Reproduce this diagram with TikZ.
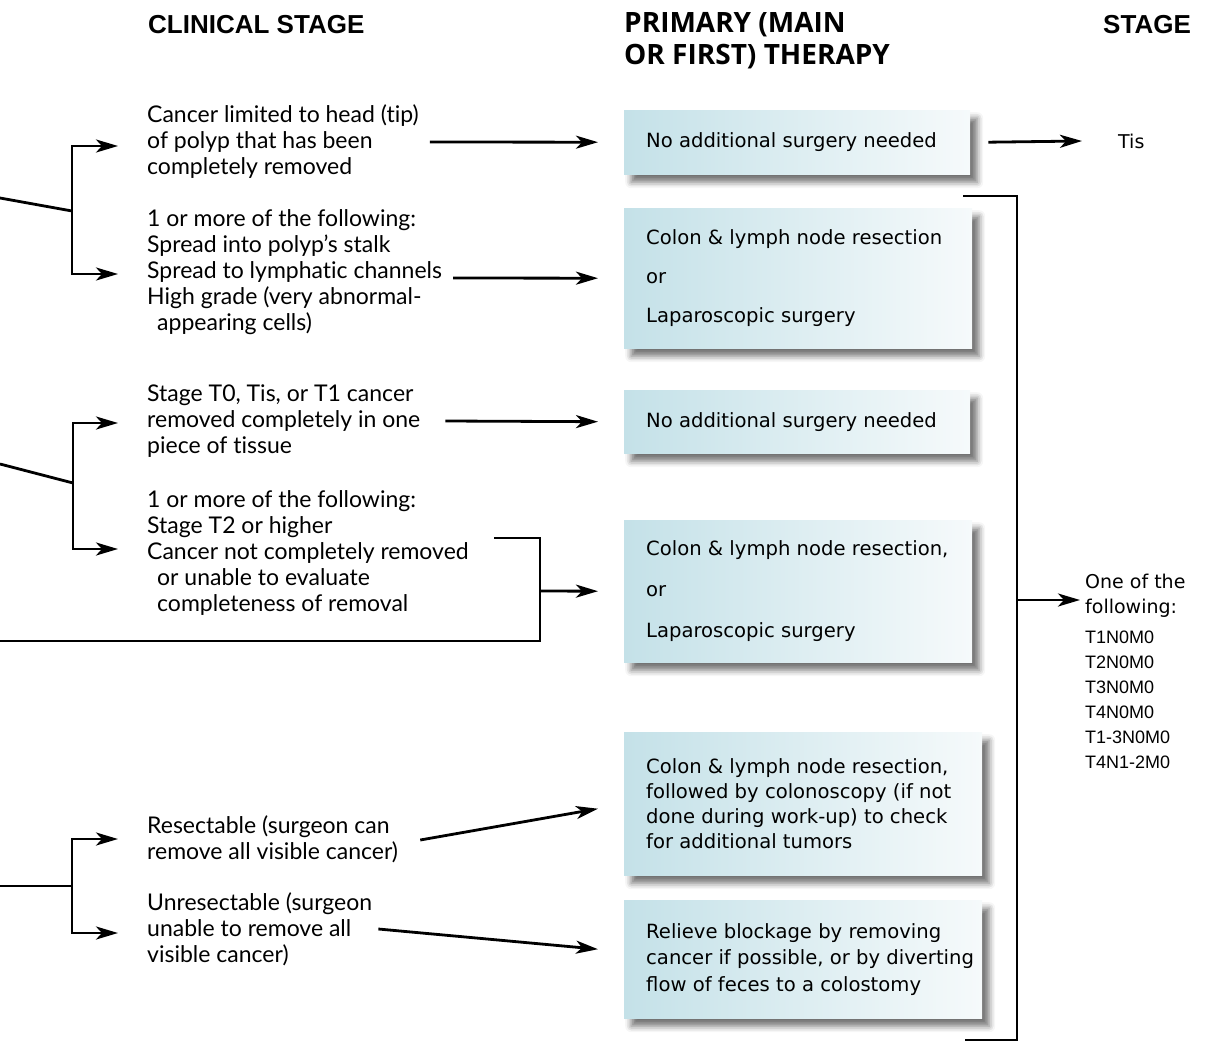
\documentclass[tikz,border=0pt]{standalone}
\usepackage{fontspec}
\setmainfont{Lato}
\newfontfamily\condfont[Ligatures=NoCommon]{Lato}
\newfontfamily\panelfont{DejaVu Sans}
\newfontfamily\stagefont{Liberation Sans}
\newfontfamily\headfont{Liberation Sans}
\newfontfamily\therapyfont{Open Sans}
\usetikzlibrary{arrows.meta,shadows.blur}
\definecolor{panelL}{RGB}{196,225,232}
\definecolor{panelR}{RGB}{246,250,251}

\begin{document}
\begin{tikzpicture}[x=1pt,y=-1pt,
  link/.style={line width=2.8pt},
  arr/.style={link,-{Stealth[length=22pt,width=13pt,inset=6pt]}},
  cond/.style={anchor=west,inner sep=0pt,align=left,
    font=\condfont\fontsize{23}{26}\selectfont},
  panel/.style={anchor=north west,inner sep=0pt,
    left color=panelL,right color=panelR,
    blur shadow={shadow xshift=7pt,shadow yshift=-8pt,
      shadow blur radius=6pt,shadow opacity=55}},
  paneltext/.style={anchor=west,inner sep=0pt,align=left,
    font=\panelfont\fontsize{19.6}{#1}\selectfont},
  paneltext/.default=26,
  head/.style={anchor=west,inner sep=0pt,align=left,
    font=\headfont\bfseries\fontsize{26}{32}\selectfont},
  thead/.style={anchor=west,inner sep=0pt,align=left,
    font=\therapyfont\bfseries\fontsize{28}{32}\selectfont},
  stage/.style={anchor=west,inner sep=0pt,align=left,
    font=\panelfont\fontsize{19}{25}\selectfont}]

\useasboundingbox (0,0) rectangle (1219,1044);

% column headings
\node[head]  (hClin)  at (148,25) {CLINICAL STAGE};
\node[thead] (hPrim)  at (624,41) {PRIMARY (MAIN\\OR FIRST) THERAPY};
\node[head]  (hStage) at (1103,25) {STAGE};

% clinical findings
\node[cond] (c1) at (147,142) {Cancer limited to head (tip)\\of polyp that has been\\completely removed};
\node[cond] (c2) at (147,272) {1 or more of the following:\\Spread into polyp’s stalk\\Spread to lymphatic channels\\High grade (very abnormal-\\\hspace*{10pt}appearing cells)};
\node[cond] (c3) at (147,421) {Stage T0, Tis, or T1 cancer\\removed completely in one\\piece of tissue};
\node[cond] (c4) at (147,553) {1 or more of the following:\\Stage T2 or higher\\Cancer not completely removed\\\hspace*{10pt}or unable to evaluate\\\hspace*{10pt}completeness of removal};
\node[cond] (c5) at (147,839) {Resectable (surgeon can\\remove all visible cancer)};
\node[cond] (c6) at (147,929) {Unresectable (surgeon\\unable to remove all\\visible cancer)};

% therapy panels
\node[panel,minimum width=346,minimum height=64]  (b1) at (624,110) {};
\node[panel,minimum width=348,minimum height=140] (b2) at (624,208) {};
\node[panel,minimum width=346,minimum height=63]  (b3) at (624,390) {};
\node[panel,minimum width=348,minimum height=142] (b4) at (624,520) {};
\node[panel,minimum width=358,minimum height=143] (b5) at (624,732) {};
\node[panel,minimum width=358,minimum height=118] (b6) at (624,900) {};

\node[paneltext] (t1) at ([xshift=22pt]b1.west) {No additional surgery needed};
\node[paneltext=39] (t2) at ([xshift=22pt]b2.west) {Colon \& lymph node resection\\or\\Laparoscopic surgery};
\node[paneltext] (t3) at ([xshift=22pt]b3.west) {No additional surgery needed};
\node[paneltext=41] (t4) at ([xshift=22pt]b4.west) {Colon \& lymph node resection,\\or\\Laparoscopic surgery};
\node[paneltext=25] (t5) at ([xshift=22pt]b5.west) {Colon \& lymph node resection,\\followed by colonoscopy (if not\\done during work-up) to check\\for additional tumors};
\node[paneltext=26.5] (t6) at ([xshift=22pt]b6.west) {Relieve blockage by removing\\cancer if possible, or by diverting\\flow of feces to a colostomy};

% pathologic stage
\node[stage] (s0) at (1118,141) {Tis};
\node[stage] (s1) at (1085,671) {One of the\\following:\\[5pt]{\stagefont\fontsize{18}{24}\selectfont T1N0M0}\\{\stagefont\fontsize{18}{24}\selectfont T2N0M0}\\{\stagefont\fontsize{18}{24}\selectfont T3N0M0}\\{\stagefont\fontsize{18}{24}\selectfont T4N0M0}\\{\stagefont\fontsize{18}{24}\selectfont T1-3N0M0}\\{\stagefont\fontsize{18}{24}\selectfont T4N1-2M0}};

% first branch
\coordinate (g1in) at (0,198);
\coordinate (g1j)  at (72,211);
\draw[link] (g1in) -- (g1j);
\draw[arr] (g1j) |- ([xshift=-29pt,yshift=-4pt]c1.west);
\draw[arr] (g1j) |- ([xshift=-29pt,yshift=-2pt]c2.west);
\draw[arr] ([xshift=11pt]c1.east) -- ([xshift=-26pt]b1.west);
\draw[arr] ([xshift=11pt,yshift=-6pt]c2.east) -- ([xshift=-26pt]b2.west);

% second branch
\coordinate (g2in) at (0,464);
\coordinate (g2j)  at (73,483);
\draw[link] (g2in) -- (g2j);
\draw[arr] (g2j) |- ([xshift=-29pt,yshift=-2pt]c3.west);
\draw[arr] (g2j) |- ([xshift=-29pt,yshift=4pt]c4.west);
\draw[arr] ([xshift=25pt]c3.east) -- ([xshift=-26pt]b3.west);
\coordinate (k4a)   at (494,538);
\coordinate (k4b)   at (540,538);
\coordinate (k4c)   at (540,641);
\coordinate (k4out) at (0,641);
\coordinate (k4m)   at (540,591);
\draw[link] (k4a) -- (k4b) -- (k4c) -- (k4out);
\draw[arr] (k4m) -- ([xshift=-26pt]b4.west);

% third branch
\coordinate (g3in) at (0,886);
\coordinate (g3j)  at (72,886);
\draw[link] (g3in) -- (g3j);
\draw[arr] (g3j) |- ([xshift=-29pt]c5.west);
\draw[arr] (g3j) |- ([xshift=-29pt,yshift=-4pt]c6.west);
\draw[arr] ([xshift=22pt,yshift=-1pt]c5.east) -- ([xshift=-26pt,yshift=-5pt]b5.west);
\draw[arr] ([xshift=6pt]c6.east) -- ([xshift=-26pt,yshift=10pt]b6.west);

% stage outcomes
\draw[arr] ([xshift=18pt]b1.east) -- ([xshift=-36pt]s0.west);
\coordinate (rTop) at (963,196);
\coordinate (rT)   at (1017,196);
\coordinate (rB)   at (1017,1040);
\coordinate (rBot) at (965,1040);
\coordinate (rM)   at (1017,600);
\draw[link] (rTop) -- (rT) -- (rB) -- (rBot);
\draw[arr,shorten >=5pt] (rM) -- (rM -| s1.west);
\end{tikzpicture}
\end{document}
